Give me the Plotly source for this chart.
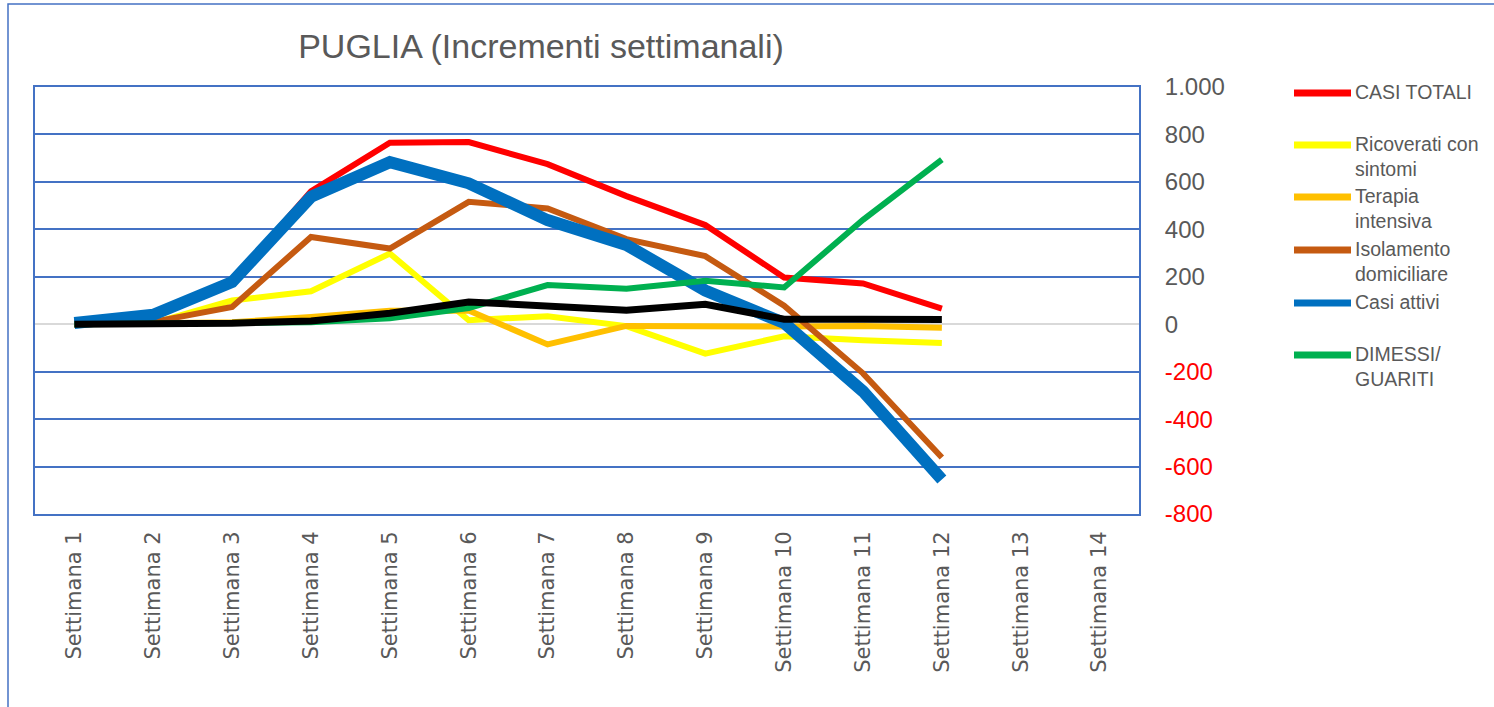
import plotly.graph_objects as go

# Weekly increments, Puglia
weeks = [f"Settimana {i}" for i in range(1, 15)]

casi_totali = [10, 40, 180, 560, 765, 768, 675, 540, 418, 197, 172, 66]
ricoverati = [0, 5, 100, 139, 298, 17, 34, -8, -124, -51, -68, -79]
terapia_intensiva = [0, 2, 8, 30, 57, 58, -85, -7, -11, -10, -8, -15]
isolamento = [0, 10, 73, 368, 319, 516, 488, 359, 287, 78, -207, -562]
casi_attivi = [5, 40, 178, 537, 683, 594, 439, 334, 142, 5, -283, -655]
dimessi = [0, 2, 5, 8, 25, 68, 165, 150, 183, 155, 440, 694]
deceduti = [0, 1, 4, 14, 46, 94, 74, 59, 84, 21, 21, 20]

y_ticks = [-800, -600, -400, -200, 0, 200, 400, 600, 800, 1000]

series = [
    ("CASI TOTALI", casi_totali, "#FF0000", 6, True),
    ("Ricoverati con<br>sintomi", ricoverati, "#FFFF00", 6, True),
    ("Terapia<br>intensiva", terapia_intensiva, "#FFC000", 6, True),
    ("Isolamento<br>domiciliare", isolamento, "#C55A11", 6, True),
    ("Casi attivi", casi_attivi, "#0070C0", 12, True),
    ("DIMESSI/<br>GUARITI", dimessi, "#00B050", 6, True),
    ("Deceduti", deceduti, "#000000", 7, False),
]

GRID = "#4472C4"
TEXT = "#595959"

# plot area in pixels
W, H = 1494, 707
L, R, T, B = 35, 1139, 87, 514


def px(x):
    return (x - L) / (R - L)


def py(y):
    return (B - y) / (B - T)


fig = go.Figure()
for name, vals, color, width, _ in series:
    fig.add_trace(go.Scatter(
        x=weeks[:len(vals)], y=vals, name=name.replace("<br>", " "),
        mode="lines", line=dict(color=color, width=width),
        showlegend=False, hoverinfo="x+y+name",
    ))

tick_text = []
for v in y_ticks:
    label = f"{v:,}".replace(",", ".")
    if v < 0:
        label = f'<span style="color:#FF0000">{label}</span>'
    tick_text.append(label)

shapes = [
    # outer chart frame
    dict(type="rect", xref="paper", yref="paper",
         x0=px(8), x1=px(1520), y0=py(740), y1=py(4),
         line=dict(color=GRID, width=1.5), fillcolor="rgba(0,0,0,0)", layer="below"),
]
annotations = []

# legend: sample line + label for each listed series
legend_y = [93, 145, 197, 250, 303, 355]
listed = [s for s in series if s[4]]
for (name, _, color, _, _), yc in zip(listed, legend_y):
    shapes.append(dict(type="line", xref="paper", yref="paper",
                       x0=px(1294), x1=px(1351), y0=py(yc), y1=py(yc),
                       line=dict(color=color, width=7)))
    annotations.append(dict(xref="paper", yref="paper", x=px(1353), y=py(yc - 13.6),
                            xanchor="left", yanchor="top", align="left",
                            text=name, showarrow=False,
                            font=dict(family="Liberation Sans", size=19.5, color=TEXT)))

fig.update_layout(
    width=W, height=H,
    margin=dict(l=L, r=W - R, t=T, b=H - B),
    paper_bgcolor="white", plot_bgcolor="white",
    title=dict(text="PUGLIA (Incrementi settimanali)", x=541 / W, xref="container",
               xanchor="center", y=1 - 46 / H, yref="container", yanchor="middle",
               font=dict(family="Liberation Sans", size=34, color=TEXT)),
    xaxis=dict(
        type="category", categoryorder="array", categoryarray=weeks,
        tickmode="array", tickvals=weeks, ticktext=weeks,
        range=[-0.5, 13.5], tickangle=-90, showgrid=False,
        showline=True, mirror=True, linecolor=GRID, linewidth=2,
        ticks="", ticklabelstandoff=7,
        tickfont=dict(family="DejaVu Sans", size=21, color=TEXT),
    ),
    yaxis=dict(
        side="right", range=[-800, 1000], tickmode="array",
        tickvals=y_ticks, ticktext=tick_text,
        showgrid=True, gridcolor=GRID, gridwidth=2,
        zeroline=True, zerolinecolor="#D9D9D9", zerolinewidth=2,
        showline=True, mirror=True, linecolor=GRID, linewidth=2,
        ticks="", ticklabelstandoff=19,
        tickfont=dict(family="Liberation Sans", size=24, color=TEXT),
    ),
    shapes=shapes,
    annotations=annotations,
    showlegend=False,
)

fig.write_html("out.html")
